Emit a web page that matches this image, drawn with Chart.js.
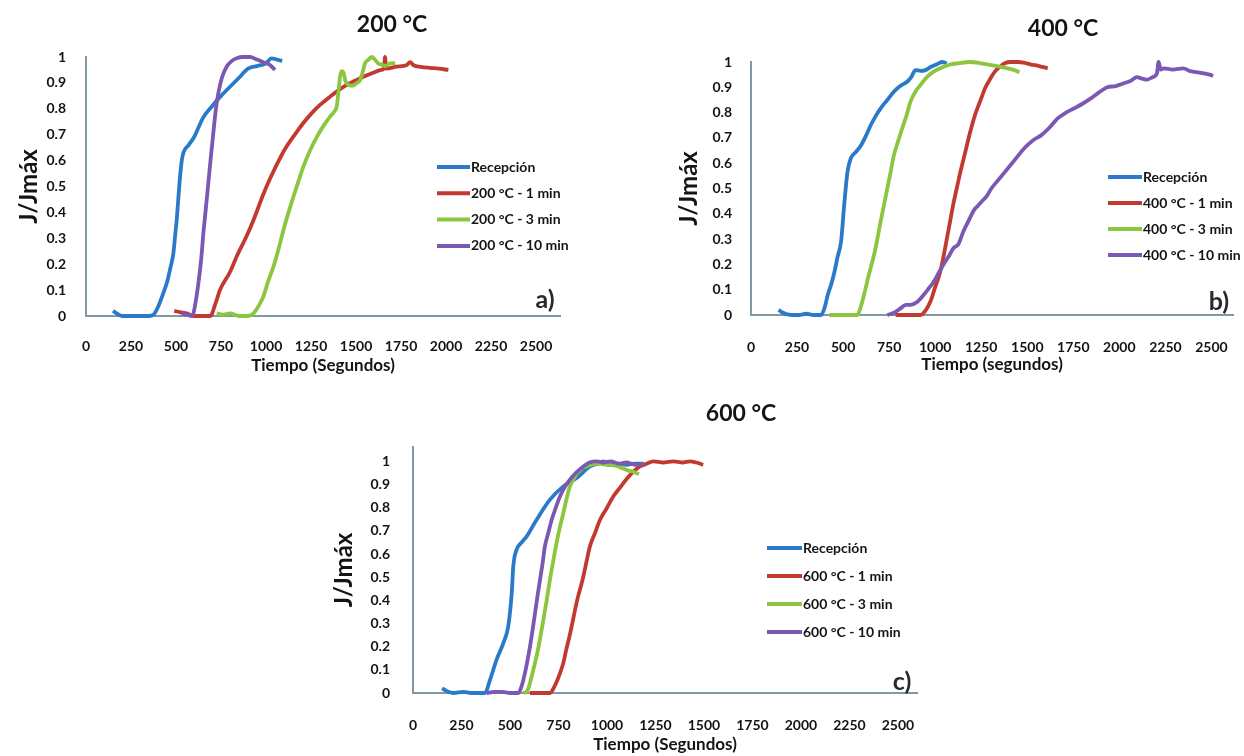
<!DOCTYPE html>
<html lang="es">
<head>
<meta charset="utf-8">
<title>J/Jmáx frente al tiempo</title>
<script src="https://cdn.jsdelivr.net/npm/chart.js@4.4.1/dist/chart.umd.min.js"></script>
<style>
  body { margin: 0; background: #fff; }
  #page { position: relative; width: 1244px; height: 756px; overflow: hidden; background: #fff; }
  canvas { position: absolute; }
  .titulo { position: absolute; font: bold 23px Lato, sans-serif; color: #141414; transform: translate(-50%, -50%); white-space: nowrap; }
  .letra { position: absolute; font: bold 25px Lato, sans-serif; color: #2a2a2a; transform: translate(-50%, -50%); }
</style>
</head>
<body>
<div id="page">
  <canvas id="g200" width="620" height="385" style="left:0;top:0"></canvas>
  <canvas id="g400" width="604" height="385" style="left:640px;top:0"></canvas>
  <canvas id="g600" width="620" height="376" style="left:320px;top:380px"></canvas>
  <div class="titulo" style="left:392px;top:23px">200 °C</div>
  <div class="titulo" style="left:1063px;top:27px">400 °C</div>
  <div class="titulo" style="left:741px;top:412px">600 °C</div>
  <div class="letra" style="left:545px;top:298px">a)</div>
  <div class="letra" style="left:1219px;top:300px">b)</div>
  <div class="letra" style="left:902px;top:680px">c)</div>
</div>
<script>
// tick labels
const tiempoTicks = [0, 250, 500, 750, 1000, 1250, 1500, 1750, 2000, 2250, 2500];
const jTicks = [0, 0.1, 0.2, 0.3, 0.4, 0.5, 0.6, 0.7, 0.8, 0.9, 1];

// a) 200 °C
const t200Rec = [150, 170, 200, 250, 300, 350, 375, 400, 425, 450, 470, 485, 495, 505, 519, 530, 541, 570, 600, 650, 700, 750, 800, 850, 900, 950, 1000, 1030, 1060, 1090];
const j200Rec = [0.02, 0.01, 0, 0, 0, 0, 0.005, 0.035, 0.08, 0.13, 0.19, 0.24, 0.31, 0.38, 0.51, 0.59, 0.63, 0.66, 0.69, 0.765, 0.81, 0.85, 0.885, 0.92, 0.955, 0.965, 0.975, 0.995, 0.99, 0.985];
const t200m1 = [490, 520, 560, 600, 650, 690, 720, 744, 800, 837, 893, 930, 985, 1022, 1078, 1115, 1170, 1207, 1263, 1300, 1356, 1400, 1448, 1500, 1541, 1600, 1640, 1655, 1661, 1668, 1726, 1780, 1800, 1820, 1860, 1911, 1960, 2013];
const j200m1 = [0.02, 0.015, 0.01, 0, 0, 0, 0.05, 0.1, 0.17, 0.23, 0.31, 0.37, 0.47, 0.53, 0.61, 0.655, 0.71, 0.745, 0.79, 0.815, 0.847, 0.87, 0.892, 0.91, 0.924, 0.94, 0.95, 0.955, 1.0, 0.955, 0.963, 0.968, 0.98, 0.968, 0.962, 0.958, 0.955, 0.95];
const t200m3 = [726, 760, 800, 850, 900, 930, 960, 985, 1010, 1041, 1070, 1096, 1125, 1152, 1180, 1207, 1245, 1281, 1320, 1356, 1380, 1393, 1403, 1411, 1420, 1430, 1440, 1448, 1470, 1485, 1505, 1522, 1540, 1550, 1570, 1587, 1605, 1624, 1645, 1661, 1690, 1717];
const j200m3 = [0.01, 0.005, 0.01, 0, 0, 0.01, 0.04, 0.075, 0.13, 0.19, 0.26, 0.33, 0.4, 0.46, 0.52, 0.576, 0.64, 0.69, 0.735, 0.77, 0.79, 0.81, 0.87, 0.924, 0.945, 0.94, 0.91, 0.898, 0.89, 0.89, 0.9, 0.91, 0.95, 0.976, 0.99, 1.0, 0.99, 0.975, 0.97, 0.965, 0.975, 0.976];
const t200m10 = [530, 560, 590, 600, 615, 625, 640, 652, 665, 679, 693, 707, 720, 735, 755, 782, 810, 837, 870, 911, 950, 985, 1020, 1050];
const j200m10 = [0.01, 0.005, 0, 0.02, 0.08, 0.13, 0.22, 0.32, 0.41, 0.51, 0.61, 0.705, 0.79, 0.86, 0.92, 0.963, 0.985, 0.995, 1.0, 1.0, 0.99, 0.98, 0.97, 0.95];

// b) 400 °C
const t400Rec = [150, 170, 219, 260, 300, 340, 381, 400, 417, 435, 453, 470, 489, 506, 524, 542, 570, 597, 625, 650, 680, 704, 740, 776, 810, 848, 870, 893, 920, 947, 975, 1000, 1020, 1036, 1063];
const j400Rec = [0.02, 0.01, 0, 0, 0.005, 0, 0, 0.03, 0.08, 0.12, 0.17, 0.23, 0.29, 0.435, 0.566, 0.62, 0.645, 0.67, 0.71, 0.75, 0.79, 0.817, 0.85, 0.883, 0.905, 0.922, 0.94, 0.968, 0.965, 0.968, 0.98, 0.988, 0.995, 1.0, 0.995];
const t400m1 = [785, 830, 880, 920, 950, 974, 1000, 1027, 1045, 1063, 1081, 1099, 1117, 1135, 1162, 1189, 1216, 1252, 1270, 1300, 1324, 1350, 1378, 1410, 1449, 1480, 1520, 1560, 1611];
const j400m1 = [0, 0, 0, 0, 0.02, 0.053, 0.11, 0.17, 0.23, 0.3, 0.37, 0.44, 0.5, 0.56, 0.64, 0.72, 0.79, 0.86, 0.895, 0.935, 0.962, 0.98, 0.995, 1.0, 1.0, 0.998, 0.99, 0.985, 0.975];
const t400m3 = [426, 460, 500, 540, 578, 595, 614, 640, 668, 686, 704, 722, 740, 758, 776, 800, 821, 845, 866, 890, 920, 955, 991, 1035, 1081, 1126, 1189, 1250, 1305, 1350, 1395, 1430, 1458];
const j400m3 = [0, 0, 0, 0, 0, 0.03, 0.08, 0.16, 0.237, 0.3, 0.37, 0.435, 0.5, 0.565, 0.632, 0.69, 0.738, 0.79, 0.843, 0.88, 0.909, 0.94, 0.962, 0.978, 0.99, 0.995, 1.0, 0.995, 0.988, 0.982, 0.975, 0.968, 0.96];
const t400m10 = [740, 780, 812, 840, 866, 900, 938, 965, 991, 1018, 1045, 1072, 1099, 1126, 1153, 1180, 1207, 1216, 1230, 1252, 1280, 1305, 1350, 1395, 1440, 1485, 1530, 1575, 1620, 1665, 1710, 1755, 1800, 1845, 1890, 1934, 1980, 2024, 2060, 2096, 2120, 2150, 2180, 2204, 2213, 2225, 2240, 2290, 2348, 2380, 2419, 2460, 2490, 2509];
const j400m10 = [0, 0.01, 0.026, 0.04, 0.04, 0.05, 0.08, 0.105, 0.13, 0.165, 0.2, 0.23, 0.264, 0.28, 0.33, 0.37, 0.41, 0.42, 0.43, 0.448, 0.47, 0.5, 0.54, 0.58, 0.62, 0.66, 0.69, 0.71, 0.74, 0.777, 0.8, 0.817, 0.835, 0.856, 0.88, 0.9, 0.905, 0.916, 0.925, 0.94, 0.935, 0.93, 0.94, 0.955, 1.0, 0.97, 0.975, 0.97, 0.975, 0.965, 0.96, 0.955, 0.95, 0.945];

// c) 600 °C
const t600Rec = [150, 170, 208, 260, 300, 340, 371, 397, 431, 466, 491, 509, 517, 534, 560, 586, 637, 706, 775, 843, 912, 950, 981, 1020, 1060, 1100, 1140, 1187];
const j600Rec = [0.02, 0.01, 0, 0.005, 0, 0, 0, 0.057, 0.144, 0.216, 0.288, 0.432, 0.547, 0.619, 0.65, 0.676, 0.748, 0.835, 0.892, 0.928, 0.978, 0.99, 1.0, 0.985, 0.99, 0.985, 0.99, 0.99];
const t600m1 = [603, 650, 706, 730, 758, 775, 790, 808, 825, 838, 851, 865, 878, 895, 912, 938, 964, 1000, 1033, 1070, 1102, 1135, 1170, 1205, 1239, 1290, 1342, 1390, 1428, 1460, 1496];
const j600m1 = [0, 0, 0, 0.03, 0.086, 0.13, 0.187, 0.25, 0.316, 0.37, 0.417, 0.46, 0.503, 0.57, 0.633, 0.69, 0.748, 0.8, 0.849, 0.89, 0.925, 0.955, 0.978, 0.99, 1.0, 0.995, 1.0, 0.995, 1.0, 0.995, 0.985];
const t600m3 = [569, 590, 603, 620, 637, 655, 672, 689, 706, 723, 740, 757, 775, 792, 809, 835, 861, 900, 950, 1000, 1050, 1080, 1110, 1136, 1150, 1165];
const j600m3 = [0, 0.01, 0.043, 0.1, 0.158, 0.235, 0.316, 0.4, 0.49, 0.57, 0.648, 0.715, 0.777, 0.84, 0.892, 0.935, 0.964, 0.98, 0.99, 0.985, 0.98, 0.97, 0.96, 0.955, 0.95, 0.945];
const t600m10 = [380, 420, 460, 500, 543, 560, 577, 590, 603, 616, 629, 642, 655, 668, 680, 697, 715, 736, 758, 783, 809, 840, 878, 910, 947, 980, 1020, 1060, 1100, 1150, 1190];
const j600m10 = [0, 0.005, 0.005, 0, 0, 0.03, 0.086, 0.14, 0.2, 0.27, 0.345, 0.42, 0.49, 0.56, 0.633, 0.69, 0.748, 0.8, 0.849, 0.89, 0.921, 0.95, 0.978, 0.995, 1.0, 0.995, 1.0, 0.99, 0.995, 0.985, 0.99];

const azul = '#2a7ac9', rojo = '#c23a2f', verde = '#8cc63f', morado = '#7b58b2';
const ejeColor = '#8199a4';
const texto = '#141414';

function serie(label, t, j, color, order) {
  return {
    label: label,
    data: t.map((x, i) => ({ x: x, y: j[i] })),
    borderColor: color,
    backgroundColor: color,
    borderWidth: 3.8,
    pointRadius: 0,
    cubicInterpolationMode: 'monotone',
    clip: false,
    order: order
  };
}

// legend drawn inside the plot, like the original
const leyenda = {
  id: 'leyenda',
  afterDraw(chart, args, o) {
    const ctx = chart.ctx;
    ctx.save();
    ctx.font = 'bold 14px Lato';
    ctx.textBaseline = 'middle';
    ctx.fillStyle = texto;
    chart.data.datasets.forEach((ds, i) => {
      const y = o.y + i * o.gap;
      ctx.strokeStyle = ds.borderColor;
      ctx.lineWidth = 4;
      ctx.beginPath();
      ctx.moveTo(o.x, y);
      ctx.lineTo(o.x + o.len, y);
      ctx.stroke();
      ctx.fillText(ds.label, o.x + o.len + 1, y);
    });
    ctx.restore();
  }
};

function panel(id, datasets, p) {
  return new Chart(document.getElementById(id), {
    type: 'line',
    data: { datasets: datasets },
    options: {
      responsive: false,
      animation: false,
      devicePixelRatio: 1,
      layout: { padding: { left: 0, top: p.top, right: p.right, bottom: p.bottom } },
      plugins: {
        legend: { display: false },
        tooltip: { enabled: false },
        leyenda: p.leyenda
      },
      scales: {
        x: {
          type: 'linear',
          min: 0,
          max: p.xMax,
          afterBuildTicks: s => { s.ticks = tiempoTicks.map(v => ({ value: v })); },
          afterFit: s => { s.height = p.xH; },
          grid: { display: false },
          border: { color: ejeColor, width: 2 },
          ticks: {
            padding: p.xPad, color: texto, maxRotation: 0, autoSkip: false,
            font: { family: 'Lato', weight: 'bold', size: 14 },
            callback: v => String(v)
          },
          title: {
            display: true, text: p.xTitle, color: texto,
            font: { family: 'Lato', weight: 'bold', size: 17 },
            padding: { top: 0, bottom: 0 }
          }
        },
        y: {
          type: 'linear',
          min: 0,
          max: p.yMax,
          afterBuildTicks: s => { s.ticks = jTicks.map(v => ({ value: v })); },
          afterFit: s => { s.width = p.yW; },
          grid: { display: false },
          border: { color: ejeColor, width: 2 },
          ticks: {
            padding: p.yPad, color: texto,
            font: { family: 'Lato', weight: 'bold', size: 14 },
            callback: v => String(v)
          },
          title: {
            display: true, text: 'J/Jmáx', color: texto,
            font: { family: 'Lato', weight: 'bold', size: 24 },
            padding: { top: p.yTitlePad, bottom: 0 }
          }
        }
      }
    },
    plugins: [leyenda]
  });
}

panel('g200', [
  serie('Recepción', t200Rec, j200Rec, azul, 4),
  serie('200 °C - 1 min', t200m1, j200m1, rojo, 3),
  serie('200 °C - 3 min', t200m3, j200m3, verde, 2),
  serie('200 °C - 10 min', t200m10, j200m10, morado, 1)
], {
  top: 57, right: 60, bottom: 9, xH: 60, yW: 86, xMax: 2633, yMax: 1,
  xPad: 14, yPad: 12, yTitlePad: 15, xTitle: 'Tiempo (Segundos)',
  leyenda: { x: 437, y: 167, gap: 26.3, len: 33 }
});

panel('g400', [
  serie('Recepción', t400Rec, j400Rec, azul, 4),
  serie('400 °C - 1 min', t400m1, j400m1, rojo, 3),
  serie('400 °C - 3 min', t400m3, j400m3, verde, 2),
  serie('400 °C - 10 min', t400m10, j400m10, morado, 1)
], {
  top: 62, right: 7, bottom: 10, xH: 60, yW: 111, xMax: 2618, yMax: 1,
  xPad: 16, yPad: 11, yTitlePad: 35, xTitle: 'Tiempo (segundos)',
  leyenda: { x: 468, y: 177, gap: 26, len: 34 }
});

panel('g600', [
  serie('Recepción', t600Rec, j600Rec, azul, 4),
  serie('600 °C - 1 min', t600m1, j600m1, rojo, 3),
  serie('600 °C - 3 min', t600m3, j600m3, verde, 2),
  serie('600 °C - 10 min', t600m10, j600m10, morado, 1)
], {
  top: 67, right: 23, bottom: 1, xH: 62, yW: 93, xMax: 2598, yMax: 1.062,
  xPad: 16, yPad: 15, yTitlePad: 10, xTitle: 'Tiempo (Segundos)',
  leyenda: { x: 447, y: 168, gap: 28, len: 35 }
});
</script>
</body>
</html>
